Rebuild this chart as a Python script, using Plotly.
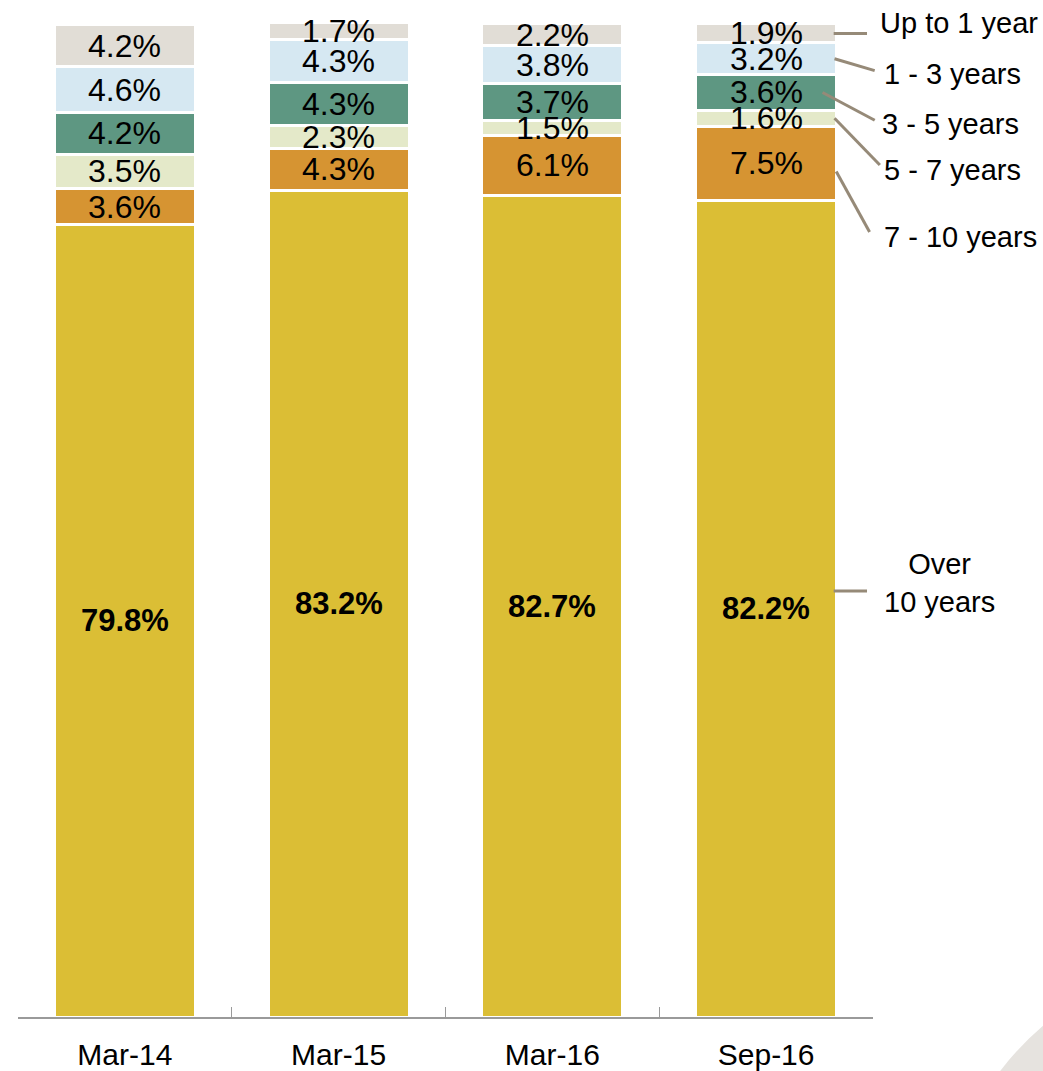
import plotly.graph_objects as go
import numpy as np

# Portfolio maturity profile (% of holdings), stacked bottom to top
categories = ["Mar-14", "Mar-15", "Mar-16", "Sep-16"]
series_names = ["Over 10 years", "7 - 10 years", "5 - 7 years", "3 - 5 years", "1 - 3 years", "Up to 1 year"]
over_10 = [79.8, 83.2, 82.7, 82.2]
y7_10 = [3.6, 4.3, 6.1, 7.5]
y5_7 = [3.5, 2.3, 1.5, 1.6]
y3_5 = [4.2, 4.3, 3.7, 3.6]
y1_3 = [4.6, 4.3, 3.8, 3.2]
up_to_1 = [4.2, 1.7, 2.2, 1.9]

series_values = [over_10, y7_10, y5_7, y3_5, y1_3, up_to_1]
colors = ["#DBBE35", "#D69432", "#E4E9C9", "#5E9782", "#D6E8F2", "#E1DDD6"]

FONT = "Arial, Liberation Sans, sans-serif"
LEADER = "#968A78"

fig = go.Figure()
for name, vals, col in zip(series_names, series_values, colors):
    fig.add_trace(go.Bar(
        x=categories, y=vals, name=name,
        marker=dict(color=col, line=dict(color="white", width=3)),
        textposition="none", hoverinfo="x+y+name",
    ))

# value labels centred in each segment
stack = np.cumsum(np.array(series_values), axis=0)
annotations = []
for s, vals in enumerate(series_values):
    for c, cat in enumerate(categories):
        mid = stack[s, c] - vals[c] / 2
        big = s == 0
        annotations.append(dict(
            x=cat, y=mid, xref="x", yref="y", text=f"{vals[c]:.1f}%",
            showarrow=False,
            font=dict(family=FONT, size=31 if big else 32, color="black",
                      weight="bold" if big else "normal"),
        ))

# series names on the right, with leader lines from the last bar
last = len(categories) - 1
label_text = ["Over<br>10 years", "7 - 10 years", "5 - 7 years", "3 - 5 years", "1 - 3 years", "Up to 1 year"]
label_dy = [2.6, -7.4, -5.2, -3.2, -1.5, 1.0]
line_dy = [1.8, -6.9, -4.7, -2.8, -1.2, 0.0]
line_x0 = [0.954, 0.957, 0.955, 0.941, 0.955, 0.954]
line_dy0 = [1.8, -0.8, 0.0, 0.0, 0.0, 0.0]
line_x1 = [0.993, 0.996, 1.008, 1.002, 1.002, 0.993]
label_x = [1.078, 1.01, 1.01, 1.008, 1.01, 1.006]
label_anchor = ["center", "left", "left", "left", "left", "left"]
shapes = []
for s in range(len(series_names)):
    mid = stack[s, last] - series_values[s][last] / 2
    annotations.append(dict(
        x=label_x[s], y=mid + label_dy[s], xref="paper", yref="y",
        text=label_text[s], showarrow=False, xanchor=label_anchor[s],
        align="center", font=dict(family=FONT, size=29, color="black"),
    ))
    shapes.append(dict(
        type="line", xref="paper", yref="y",
        x0=line_x0[s], y0=mid + line_dy0[s], x1=line_x1[s], y1=mid + line_dy[s],
        line=dict(color=LEADER, width=3),
    ))

# light decorative corner
shapes.append(dict(
    type="path", xref="paper", yref="paper",
    path="M 1.148,-0.055 Q 1.17,-0.03 1.2,-0.008 L 1.2,-0.055 Z",
    fillcolor="#E6E3DF", line=dict(width=0), layer="below",
))

fig.update_layout(
    template="none",
    barmode="stack",
    bargap=0.34,
    width=1043, height=1071,
    margin=dict(l=18, r=170, t=20, b=54),
    paper_bgcolor="white", plot_bgcolor="white",
    showlegend=False,
    annotations=annotations,
    shapes=shapes,
    xaxis=dict(
        showline=True, linecolor="#9A9A9A", linewidth=1.5,
        ticks="inside", tickson="boundaries", ticklen=10, tickcolor="#9A9A9A", tickwidth=1,
        tickfont=dict(family=FONT, size=30, color="black"),
        ticklabelstandoff=10, showgrid=False, automargin=False, zeroline=False,
    ),
    yaxis=dict(visible=False, range=[0, 100.4], automargin=False),
)

fig.write_html("out.html")
